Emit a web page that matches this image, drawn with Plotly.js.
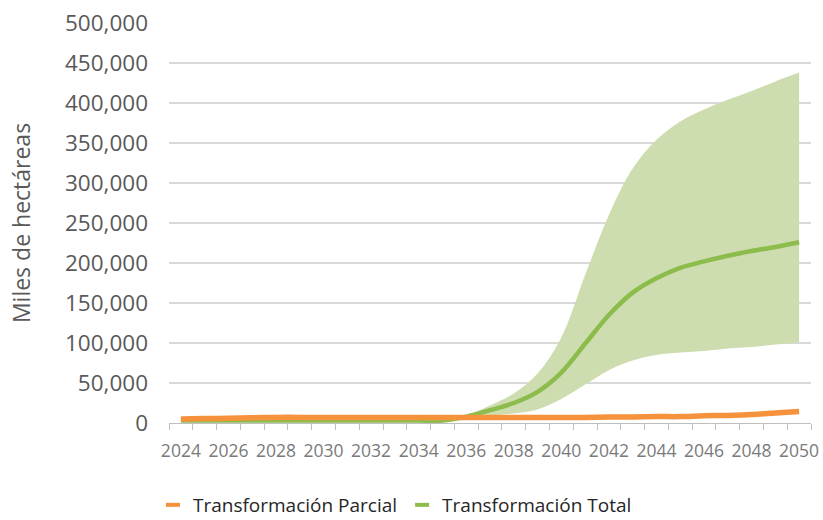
<!DOCTYPE html>
<html>
<head>
<meta charset="utf-8">
<script src="https://cdn.plot.ly/plotly-3.0.1.min.js"></script>
<style>html,body{margin:0;padding:0;background:#fff;}#chart{width:823px;height:520px;}</style>
</head>
<body>
<div id="chart"></div>
<script>
const years = [2024,2025,2026,2027,2028,2029,2030,2031,2032,2033,2034,2035,2036,2037,2038,2039,2040,2041,2042,2043,2044,2045,2046,2047,2048,2049,2050];
const parcial = [5000,5500,6000,6500,7000,7000,7000,7000,7000,7000,7000,7000,7000,7000,7000,7000,7000,7000,7500,7500,8000,8000,9000,9500,10500,12500,14500];
const totalMean = [3000,3000,3000,3000,3000,3000,3000,3000,3000,3000,3000,3000,8000,16000,25000,39000,63000,99000,135000,163000,181000,194000,202000,209000,215000,220000,226000];
const totalUpper = [3000,3000,3000,3000,3000,3000,3000,3000,3000,3000,3000,3000,10000,22000,37000,62000,107000,185000,260000,318000,354000,377000,392000,404000,415000,427000,438000];
const totalLower = [3000,3000,3000,3000,3000,3000,3000,3000,3000,3000,3000,3000,6000,9000,12000,17000,30000,48000,66000,78000,85000,88000,90000,93000,95000,98000,101000];
const xTickVals = [2024,2026,2028,2030,2032,2034,2036,2038,2040,2042,2044,2046,2048,2050];
const xTickText = ['2024','2026','2028','2030','2032','2034','2036','2038','2040','2042','2044','2046','2048','2050'];
const seriesNames = ['Transformación Parcial','Transformación Total'];

const orange = '#f7923c';
const green = '#8cbc4c';
const bandFill = 'rgba(206,221,175,1)';

const traces = [
  {x: years, y: totalLower, type:'scatter', mode:'lines', line:{width:0, shape:'spline', smoothing:1}, showlegend:false, hoverinfo:'skip'},
  {x: years, y: totalUpper, type:'scatter', mode:'lines', fill:'tonexty', fillcolor: bandFill, line:{width:0, shape:'spline', smoothing:1}, showlegend:false, hoverinfo:'skip'},
  {x: years, y: totalMean, type:'scatter', mode:'lines', line:{color: green, width:4.5, shape:'spline', smoothing:1}, showlegend:false, name: seriesNames[1]},
  {x: years, y: parcial, type:'scatter', mode:'lines', line:{color: orange, width:5.5, shape:'spline', smoothing:1}, showlegend:false, name: seriesNames[0]},
  {x:[null], y:[null], type:'scatter', mode:'markers', name: seriesNames[0], marker:{symbol:'line-ew-open', size:10, color: orange, line:{color: orange, width:4}}},
  {x:[null], y:[null], type:'scatter', mode:'markers', name: seriesNames[1], marker:{symbol:'line-ew-open', size:10, color: green, line:{color: green, width:4}}}
];

const layout = {
  width: 823, height: 520,
  margin: {l:169, r:12, t:23, b:97, autoexpand:false},
  paper_bgcolor:'#ffffff', plot_bgcolor:'#ffffff',
  font: {family:'"Open Sans", sans-serif', color:'#595959'},
  xaxis: {
    range:[2023.5, 2050.5],
    tickmode:'array', tickvals: xTickVals, ticktext: xTickText,
    ticks:'', showgrid:false, zeroline:false,
    showline:true, linecolor:'#bfbfbf', linewidth:1,
    tickfont:{size:17.5, color:'#7a7a7a'},
    ticklabelstandoff: 12,
    minor:{tickmode:'linear', tick0:2023.5, dtick:1, ticks:'outside', ticklen:6, tickcolor:'#bfbfbf', tickwidth:1, showgrid:false},
    automargin:false,
    fixedrange:true
  },
  yaxis: {
    range:[0, 500000], tickmode:'linear', tick0:0, dtick:50000,
    tickformat:',d', showgrid:true, gridcolor:'#d9d9d9', gridwidth:1.5,
    zeroline:false, showline:false, ticks:'',
    ticklabelstandoff: 20,
    tickfont:{size:22.5, color:'#595959'},
    title:{text:'Miles de hectáreas', font:{size:23, color:'#595959'}, standoff: 27},
    automargin:false,
    fixedrange:true
  },
  showlegend:true,
  legend:{orientation:'h', x:-0.025, xanchor:'left', y:-0.205, yanchor:'middle',
          font:{size:19, color:'#262626'}, itemwidth:30, traceorder:'normal'}
};

Plotly.newPlot('chart', traces, layout, {displayModeBar:false, staticPlot:true});
</script>
</body>
</html>
